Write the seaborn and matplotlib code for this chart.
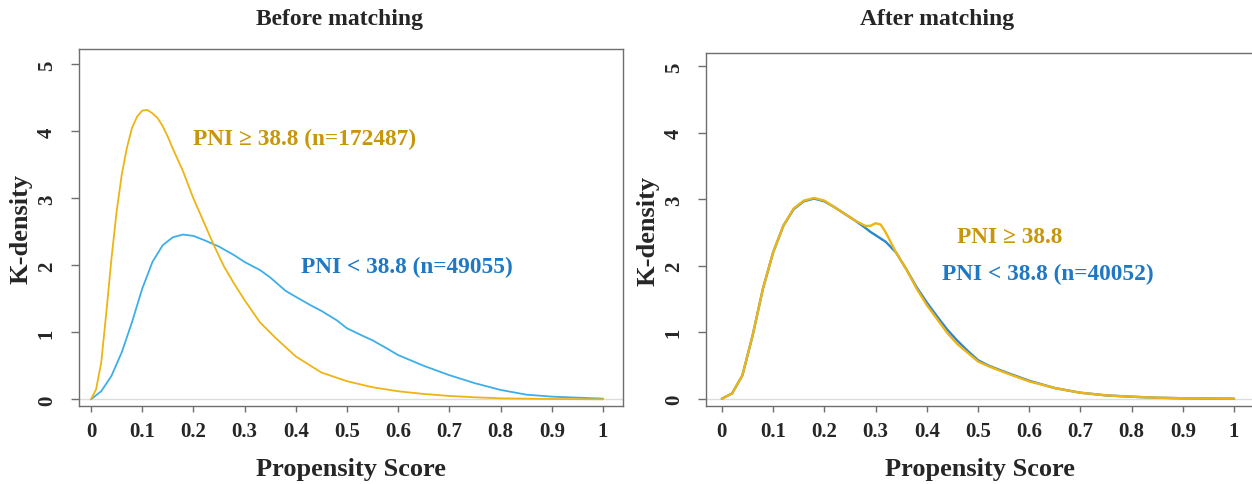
import matplotlib
matplotlib.use("Agg")
import matplotlib.pyplot as plt
import seaborn as sns

# --- Data (propensity score vs kernel density) ---
before_hi_x = [0.0, 0.01, 0.02, 0.03, 0.04, 0.05, 0.06, 0.07, 0.08, 0.09, 0.10, 0.11,
               0.12, 0.13, 0.14, 0.15, 0.16, 0.17, 0.18, 0.19, 0.20, 0.22, 0.24, 0.26,
               0.28, 0.30, 0.33, 0.36, 0.40, 0.45, 0.50, 0.55, 0.60, 0.65, 0.70, 0.75,
               0.80, 0.90, 1.0]
before_hi_y = [0.0, 0.15, 0.55, 1.3, 2.1, 2.8, 3.35, 3.75, 4.05, 4.22, 4.31, 4.32,
               4.27, 4.2, 4.08, 3.92, 3.74, 3.57, 3.4, 3.2, 3.0, 2.65, 2.3, 1.98,
               1.72, 1.48, 1.15, 0.92, 0.64, 0.40, 0.27, 0.18, 0.12, 0.08, 0.05, 0.03,
               0.015, 0.005, 0.0]

before_lo_x = [0.0, 0.02, 0.04, 0.06, 0.08, 0.10, 0.12, 0.14, 0.16, 0.18, 0.20, 0.22,
               0.25, 0.28, 0.30, 0.33, 0.35, 0.38, 0.40, 0.43, 0.45, 0.48, 0.50, 0.53,
               0.55, 0.58, 0.60, 0.65, 0.70, 0.75, 0.80, 0.85, 0.90, 0.95, 1.0]
before_lo_y = [0.0, 0.12, 0.35, 0.7, 1.15, 1.65, 2.05, 2.3, 2.42, 2.46, 2.44, 2.38,
               2.28, 2.15, 2.05, 1.93, 1.82, 1.62, 1.53, 1.40, 1.32, 1.18, 1.06, 0.95,
               0.88, 0.75, 0.66, 0.50, 0.36, 0.24, 0.14, 0.07, 0.04, 0.025, 0.01]

after_x = [0.0, 0.02, 0.04, 0.06, 0.08, 0.10, 0.12, 0.14, 0.16, 0.18, 0.20, 0.22,
           0.24, 0.26, 0.28, 0.29, 0.30, 0.31, 0.32, 0.34, 0.36, 0.38, 0.40, 0.42,
           0.44, 0.46, 0.48, 0.50, 0.52, 0.55, 0.60, 0.65, 0.70, 0.75, 0.80, 0.85,
           0.90, 1.0]
after_lo_y = [0.0, 0.08, 0.35, 0.95, 1.65, 2.2, 2.6, 2.85, 2.97, 3.01, 2.97, 2.88,
              2.78, 2.68, 2.57, 2.51, 2.46, 2.41, 2.36, 2.2, 1.95, 1.68, 1.45, 1.24,
              1.04, 0.87, 0.72, 0.58, 0.50, 0.41, 0.27, 0.16, 0.09, 0.05, 0.03, 0.015,
              0.007, 0.0]
after_hi_y = [0.0, 0.08, 0.35, 0.95, 1.65, 2.2, 2.6, 2.86, 2.98, 3.02, 2.98, 2.88,
              2.78, 2.68, 2.6, 2.6, 2.64, 2.62, 2.5, 2.2, 1.95, 1.66, 1.41, 1.2,
              0.99, 0.82, 0.69, 0.56, 0.49, 0.40, 0.26, 0.16, 0.09, 0.05, 0.03, 0.015,
              0.007, 0.0]

x_ticks = [0, 0.1, 0.2, 0.3, 0.4, 0.5, 0.6, 0.7, 0.8, 0.9, 1]
x_tick_labels = ["0", "0.1", "0.2", "0.3", "0.4", "0.5", "0.6", "0.7", "0.8", "0.9", "1"]
y_ticks = [0, 1, 2, 3, 4, 5]

YELLOW = "#EDB513"
BLUE_LIGHT = "#3DAEE9"
BLUE_DARK = "#2B87CF"
TXT_YELLOW = "#C8960A"
TXT_BLUE = "#1F78C4"

sns.set_style("white")
plt.rcParams["font.family"] = ["Liberation Serif", "DejaVu Serif"]
plt.rcParams["font.weight"] = "bold"

fig = plt.figure(figsize=(12.52, 4.85), dpi=100)
ax1 = fig.add_axes([0.0631, 0.1608, 0.4345, 0.7361])
ax2 = fig.add_axes([0.5639, 0.1608, 0.4377, 0.7278])


def style_axis(ax, xlim, ylim):
    ax.set_xlim(*xlim)
    ax.set_ylim(*ylim)
    ax.axhline(0, color="#dcdcdc", lw=1.0, zorder=0)
    for s in ax.spines.values():
        s.set_color("#6e6e6e")
        s.set_linewidth(1.0)
    ax.set_xticks(x_ticks)
    ax.set_xticklabels(x_tick_labels, fontsize=15, fontweight="bold")
    ax.set_yticks(y_ticks)
    ax.set_yticklabels([str(v) for v in y_ticks], fontsize=15, fontweight="bold",
                       rotation=90, va="center")
    ax.tick_params(axis="x", direction="out", length=4, width=1, color="#6e6e6e",
                   pad=7, bottom=True)
    ax.tick_params(axis="y", direction="out", length=6, width=1, color="#6e6e6e",
                   pad=10, left=True)
    ax.set_xlabel("Propensity Score", fontsize=19, fontweight="bold", labelpad=11)
    ax.set_ylabel("K-density", fontsize=19, fontweight="bold", labelpad=3)


# Before matching
sns.lineplot(x=before_lo_x, y=before_lo_y, ax=ax1, color=BLUE_LIGHT, linewidth=1.3)
sns.lineplot(x=before_hi_x, y=before_hi_y, ax=ax1, color=YELLOW, linewidth=1.3)
style_axis(ax1, (-0.0234, 1.039), (-0.1, 5.23))
ax1.text(0.20, 3.9, "PNI \u2265 38.8 (n=172487)", color=TXT_YELLOW, fontsize=16.8,
         fontweight="bold", va="center", ha="left")
ax1.text(0.41, 1.98, "PNI < 38.8 (n=49055)", color=TXT_BLUE, fontsize=16.8,
         fontweight="bold", va="center", ha="left")

# After matching
sns.lineplot(x=after_x, y=after_lo_y, ax=ax2, color=BLUE_DARK, linewidth=1.7)
sns.lineplot(x=after_x, y=after_hi_y, ax=ax2, color=YELLOW, linewidth=1.7)
style_axis(ax2, (-0.031, 1.039), (-0.11, 5.2))
ax2.text(0.46, 2.44, "PNI \u2265 38.8", color=TXT_YELLOW, fontsize=16.8,
         fontweight="bold", va="center", ha="left")
ax2.text(0.43, 1.89, "PNI < 38.8 (n=40052)", color=TXT_BLUE, fontsize=16.8,
         fontweight="bold", va="center", ha="left")

fig.text(340 / 1252, 1 - 19 / 485, "Before matching", fontsize=17, fontweight="bold",
         ha="center", va="center")
fig.text(937 / 1252, 1 - 19 / 485, "After matching", fontsize=17, fontweight="bold",
         ha="center", va="center")

plt.savefig("out.png", dpi=100)
plt.close()
